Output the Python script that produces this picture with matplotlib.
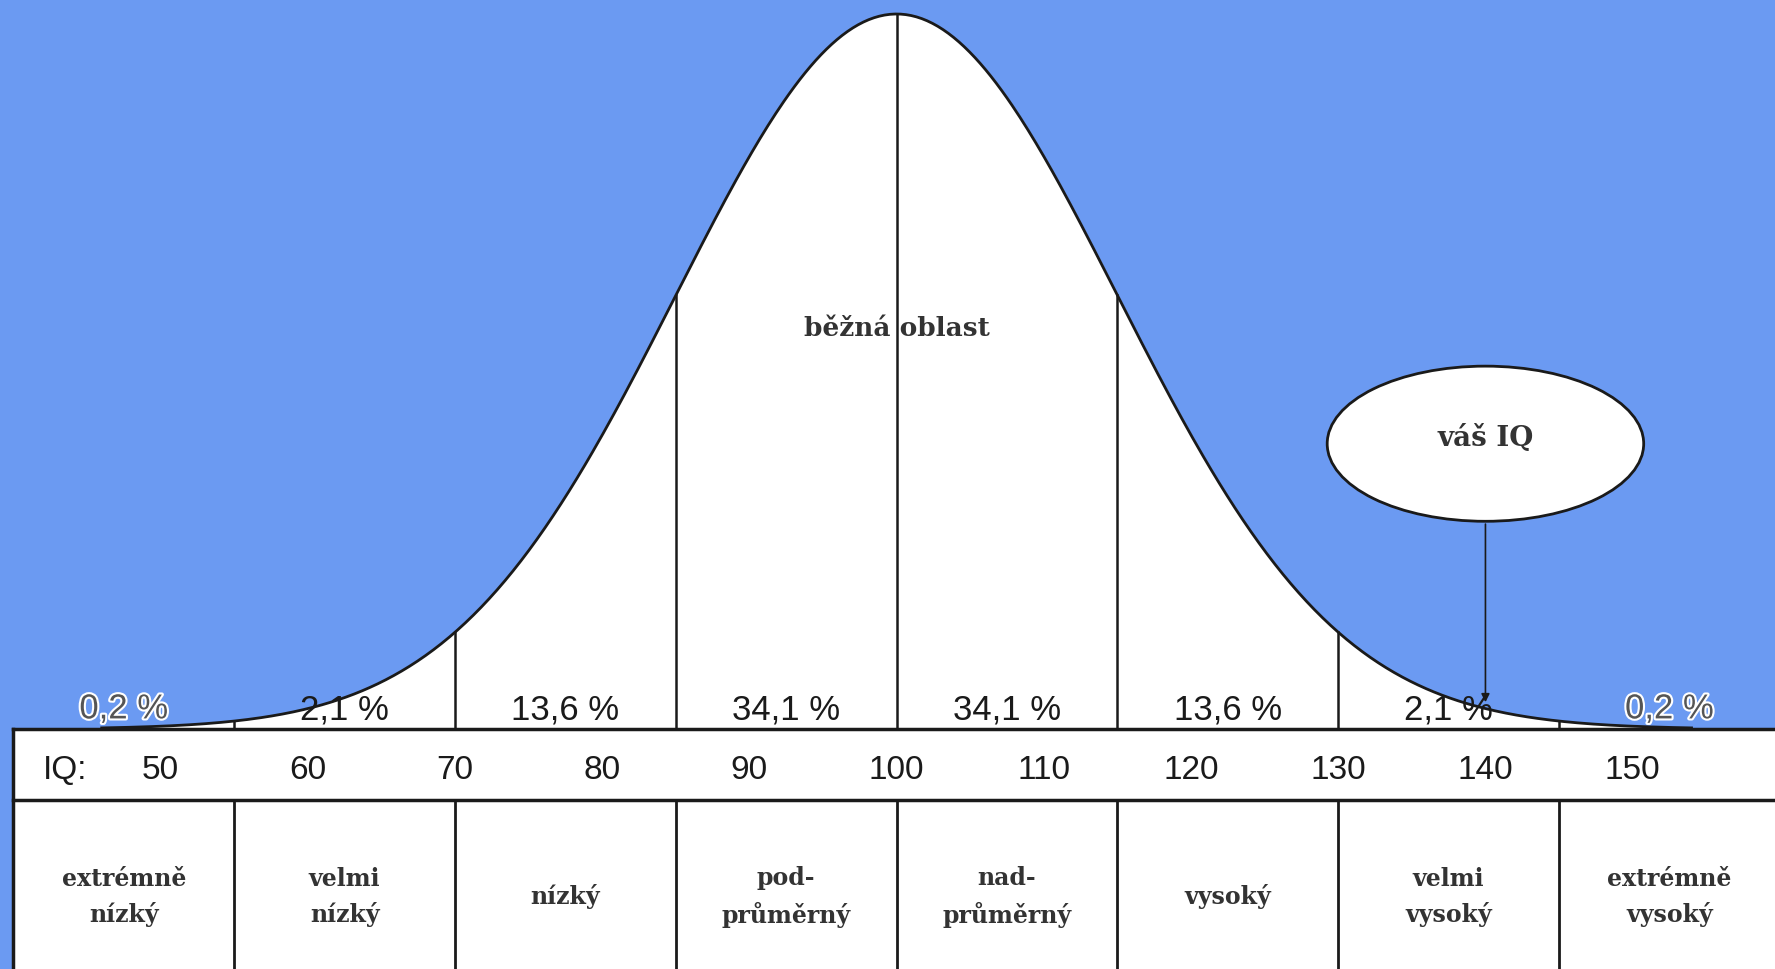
import numpy as np
import matplotlib.pyplot as plt
import matplotlib.patheffects as pe
from matplotlib.patches import Ellipse, Rectangle

# IQ scale: mean 100, SD 15
mean, sd = 100, 15
bounds = [55, 70, 85, 100, 115, 130, 145]
pct_labels = ['0,2 %', '2,1 %', '13,6 %', '34,1 %', '34,1 %', '13,6 %', '2,1 %', '0,2 %']
pct_pos = [47.5, 62.5, 77.5, 92.5, 107.5, 122.5, 137.5, 152.5]
iq_ticks = [50, 60, 70, 80, 90, 100, 110, 120, 130, 140, 150]
cat_edges = [40, 55, 70, 85, 100, 115, 130, 145, 160]
categories = ['extrémně\nnízký', 'velmi\nnízký', 'nízký', 'pod-\nprůměrný',
              'nad-\nprůměrný', 'vysoký', 'velmi\nvysoký', 'extrémně\nvysoký']
your_iq = 140

blue = '#6b9af2'
ink = '#1a1a1a'

def bell(x):
    # height relative to the peak
    return np.exp(-0.5 * ((x - mean) / sd) ** 2)

fig = plt.figure(figsize=(17.75, 9.7), dpi=100)
fig.patch.set_facecolor(blue)
ax = fig.add_axes([0, 0, 1, 1])
ax.set_facecolor(blue)
ax.set_xlim(39.09, 159.67)
ax.set_ylim(-240 / 715, 730 / 715)
ax.axis('off')

row1 = -71 / 715
row2 = -240 / 715

# table background
ax.add_patch(Rectangle((40, row2), 130, -row2, facecolor='white', edgecolor='none', zorder=1))

# bell curve
x = np.linspace(46, 154, 600)
y = bell(x)
ax.fill_between(x, 0, y, color='white', zorder=1)
ax.plot(x, y, color=ink, lw=2, zorder=3)

# SD lines under the curve
for b in bounds:
    ax.plot([b, b], [0, bell(b)], color=ink, lw=1.8, zorder=3)

# table lines
ax.plot([40, 170], [0, 0], color=ink, lw=2.5, zorder=4)
ax.plot([40, 170], [row1, row1], color=ink, lw=2.5, zorder=4)
ax.plot([40, 40], [0, row2], color=ink, lw=2.5, zorder=4)
for b in bounds:
    ax.plot([b, b], [row1, row2], color=ink, lw=2, zorder=4)

# percentages
for p, lab in zip(pct_pos, pct_labels):
    if lab == '0,2 %':
        ax.text(p, 0.005, lab, ha='center', va='bottom', fontsize=25, color='#555555',
                family='Liberation Sans', zorder=5,
                path_effects=[pe.withStroke(linewidth=3, foreground='white')])
    else:
        ax.text(p, 0.005, lab, ha='center', va='bottom', fontsize=25, color=ink,
                family='Liberation Sans', zorder=5)

# IQ row
iq_y = row1 / 2 - 0.007
ax.text(42.0, iq_y, 'IQ:', ha='left', va='center', fontsize=24, color=ink,
        family='Liberation Sans', zorder=5)
for t in iq_ticks:
    ax.text(t, iq_y, str(t), ha='center', va='center', fontsize=24, color=ink,
            family='Liberation Sans', zorder=5)

# category row
for i, cat in enumerate(categories):
    cx = (cat_edges[i] + cat_edges[i + 1]) / 2
    ax.text(cx, (row1 + row2) / 2 - 0.016, cat, ha='center', va='center', fontsize=17,
            color='#333333', family='DejaVu Serif', fontweight='bold',
            linespacing=1.55, zorder=5)

ax.text(100, 0.561, 'běžná oblast', ha='center', va='center', fontsize=19,
        color='#333333', family='DejaVu Serif', fontweight='bold', zorder=5)

# "your IQ" bubble
ell_y, ell_h = 0.399, 0.217
ax.add_patch(Ellipse((your_iq, ell_y), 21.5, ell_h, facecolor='white',
                     edgecolor=ink, lw=2, zorder=5))
ax.text(your_iq, ell_y + 0.01, 'váš IQ', ha='center', va='center', fontsize=20,
        color='#333333', family='DejaVu Serif', fontweight='bold', zorder=6)
ax.annotate('', xy=(your_iq, bell(your_iq) + 0.005), xytext=(your_iq, ell_y - ell_h / 2),
            arrowprops=dict(arrowstyle='-|>', color=ink, lw=1.2, mutation_scale=12),
            zorder=6)

fig.savefig('out.png', dpi=100, facecolor=blue)
